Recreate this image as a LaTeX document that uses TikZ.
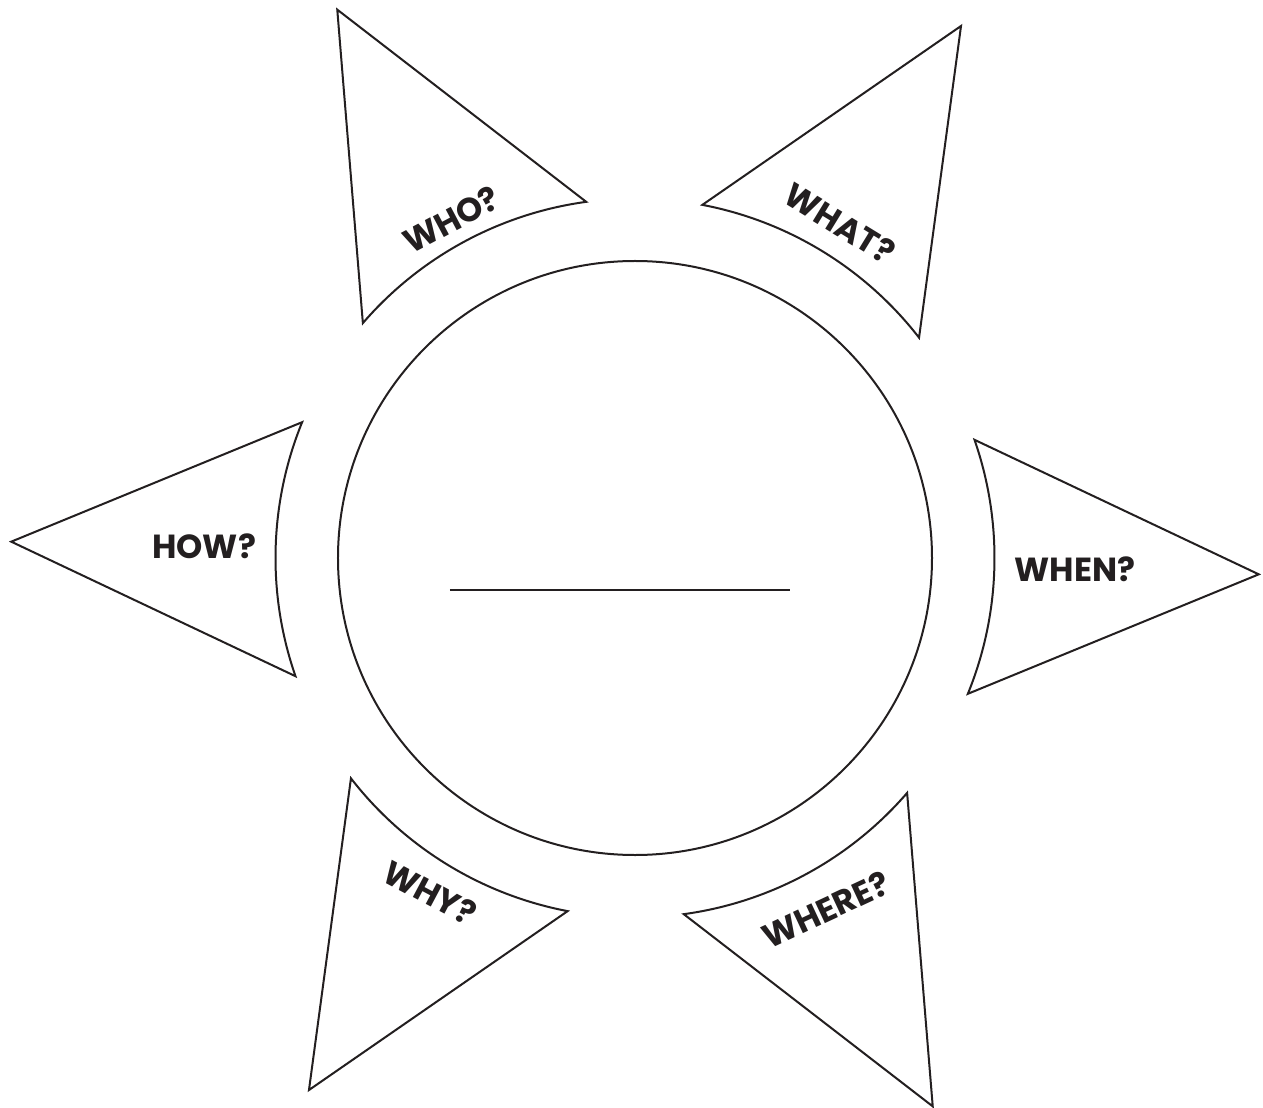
\documentclass[tikz,border=0pt]{standalone}
\usepackage{fontspec}
\setmainfont{Poppins}
\usetikzlibrary{positioning}
\definecolor{inkline}{RGB}{35,31,32}

\begin{document}
\begin{tikzpicture}[
    raybox/.style={draw=inkline, line width=0.04cm, line join=miter, fill=white},
    raylabel/.style={text=inkline, font=\fontsize{19}{22}\selectfont\bfseries, inner sep=0pt}
]
\useasboundingbox (-12.7,-10.98) rectangle (12.56,11.16);
% rays: angle/label/label radius/label rotation/name
\foreach \ang/\txt/\rad/\rot/\nm in {178.5/HOW?/8.62/0/how, -1.5/WHEN?/8.8/0/when,
    118.5/WHO?/7.7/28/who, 58.5/WHAT?/7.85/-31.5/what,
    238.5/WHY?/7.85/-28/why, 298.5/WHERE?/8.0/25/where} {
  \draw[raybox] (\ang-20.7:7.19) arc[start angle=\ang-20.7, end angle=\ang+20.7, radius=7.19]
      -- (\ang:12.48) -- cycle;
  \node[raylabel, rotate=\rot] (\nm) at (\ang:\rad) {\txt};
}
% centre disc
\node[draw=inkline, line width=0.04cm, circle, minimum size=11.88cm, inner sep=0pt] (core) at (0,0) {};
\coordinate (blankL) at (-3.7,-0.64);
\coordinate (blankR) at (3.1,-0.64);
\draw[inkline, line width=0.04cm] (blankL) -- (blankR);
\end{tikzpicture}
\end{document}
